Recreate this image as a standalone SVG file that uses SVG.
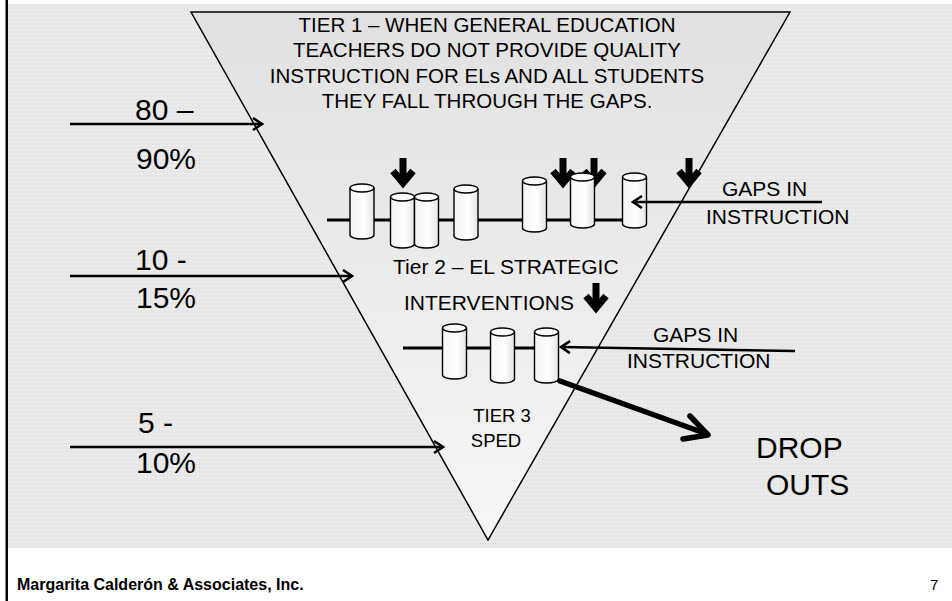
<svg xmlns="http://www.w3.org/2000/svg" xmlns:xlink="http://www.w3.org/1999/xlink" width="952" height="601" viewBox="0 0 952 601">
  <style>
    text { font-family: "Liberation Sans", Arial, Helvetica, sans-serif; fill: #000; }
    .t20 { font-size: 20.5px; }
    .t21 { font-size: 21px; }
    .t18 { font-size: 18.5px; }
    .t30 { font-size: 30px; }
    .mid { text-anchor: middle; }
    .thin { fill: none; stroke: #000; stroke-width: 2.5; marker-end: url(#open); }
    .rail { fill: none; stroke: #000; stroke-width: 3; }
    .cyl-body { fill: url(#cylGrad); stroke: #000; stroke-width: 1.4; }
    .cyl-top { fill: #fafafa; stroke: #000; stroke-width: 1.4; }
    .bold-arrow { fill: none; stroke: #000; stroke-width: 7; stroke-linejoin: miter; }
  </style>
  <defs>
    <pattern id="dots" width="4" height="4" patternUnits="userSpaceOnUse">
      <rect width="4" height="4" fill="#e7e7e7"/>
      <rect x="1" y="1" width="1.2" height="1.2" fill="#f7f7f7"/>
    </pattern>
    <linearGradient id="funnelGrad" x1="0" y1="0" x2="0" y2="1">
      <stop offset="0" stop-color="#e1e1e1"/>
      <stop offset="1" stop-color="#f6f6f6"/>
    </linearGradient>
    <linearGradient id="cylGrad" x1="0" y1="0" x2="1" y2="0">
      <stop offset="0" stop-color="#f4f4f4"/>
      <stop offset="0.6" stop-color="#ffffff"/>
      <stop offset="1" stop-color="#e4e4e4"/>
    </linearGradient>
    <marker id="open" markerWidth="12" markerHeight="14" refX="10" refY="7" orient="auto" markerUnits="userSpaceOnUse">
      <path d="M1,1 L10,7 L1,13" fill="none" stroke="#000" stroke-width="2.5"/>
    </marker>
    <!-- cylinder: 24 wide, 55 tall -->
    <g id="cyl">
      <path class="cyl-body" d="M0,4 V51 A12,4 0 0 0 24,51 V4"/>
      <ellipse class="cyl-top" cx="12" cy="4" rx="12" ry="4"/>
    </g>
    <!-- bold downward arrow, origin at top of shaft -->
    <g id="down">
      <path class="bold-arrow" d="M0,0 V24"/>
      <path class="bold-arrow" d="M-10,13 L0,25 L10,13"/>
    </g>
  </defs>

  <!-- page -->
  <rect width="952" height="601" fill="#fff"/>
  <rect x="8" y="4" width="944" height="544" fill="url(#dots)"/>
  <rect x="5.5" y="0" width="2.5" height="601" fill="#000"/>

  <!-- funnel -->
  <g id="funnel">
    <polygon points="191,12 790,12 488,540" fill="url(#funnelGrad)" stroke="#000" stroke-width="1.5"/>
    <text class="t20 mid" x="487" y="32">TIER 1 – WHEN GENERAL EDUCATION</text>
    <text class="t20 mid" x="487" y="57">TEACHERS DO NOT PROVIDE QUALITY</text>
    <text class="t20 mid" x="487" y="83">INSTRUCTION FOR ELs AND ALL STUDENTS</text>
    <text class="t20 mid" x="487" y="108">THEY FALL THROUGH THE GAPS.</text>
  </g>

  <!-- percentage labels -->
  <g id="label-tier1">
    <text class="t30" x="135" y="120">80 –</text>
    <text class="t30" x="136" y="169">90%</text>
  </g>
  <g id="label-tier2">
    <text class="t30" x="135" y="270">10 -</text>
    <text class="t30" x="136" y="308">15%</text>
  </g>
  <g id="label-tier3">
    <text class="t30" x="138" y="433">5 -</text>
    <text class="t30" x="136" y="473">10%</text>
  </g>

  <!-- tier 1 gaps row -->
  <g id="row1">
    <path class="rail" d="M327,220 H623"/>
    <use xlink:href="#down" x="403" y="158"/>
    <use xlink:href="#down" x="563" y="158"/>
    <use xlink:href="#down" x="594" y="158"/>
    <use xlink:href="#down" x="689" y="158"/>
    <use xlink:href="#cyl" x="350" y="184"/>
    <use xlink:href="#cyl" x="390.5" y="193"/>
    <use xlink:href="#cyl" x="414.5" y="193"/>
    <use xlink:href="#cyl" x="454" y="185"/>
    <use xlink:href="#cyl" x="522.5" y="177"/>
    <use xlink:href="#cyl" x="570.5" y="173"/>
    <use xlink:href="#cyl" x="622.5" y="173"/>
  </g>
  <g id="gaps1">
    <text class="t21" x="722" y="196">GAPS IN</text>
    <text class="t21" x="706" y="224">INSTRUCTION</text>
  </g>

  <!-- tier 2 -->
  <g id="tier2">
    <text class="t21" x="393" y="274">Tier 2 – EL STRATEGIC</text>
    <text class="t21" x="404" y="310">INTERVENTIONS</text>
    <use xlink:href="#down" x="596" y="283"/>
  </g>
  <g id="row2">
    <path class="rail" d="M403,348 H535"/>
    <use xlink:href="#cyl" x="442.5" y="324"/>
    <use xlink:href="#cyl" x="490.5" y="328"/>
    <use xlink:href="#cyl" x="534.5" y="328"/>
  </g>
  <g id="gaps2">
    <text class="t21" x="653" y="342">GAPS IN</text>
    <text class="t21" x="627" y="368">INSTRUCTION</text>
  </g>

  <!-- tier 3 -->
  <g id="tier3">
    <text class="t18 mid" x="502" y="422">TIER 3</text>
    <text class="t18 mid" x="496" y="447">SPED</text>
  </g>

  <g id="dropouts">
    <text class="t30" x="756" y="458">DROP</text>
    <text class="t30" x="766" y="495">OUTS</text>
  </g>

  <!-- connectors -->
  <g id="connectors">
    <path class="thin" d="M70,124 H262"/>
    <path class="thin" d="M70,276 H352"/>
    <path class="thin" d="M70,447 H443"/>
    <path class="thin" d="M822,202 H633"/>
    <path class="thin" d="M795,351 L561,347"/>
    <path d="M560,381 L707,434" fill="none" stroke="#000" stroke-width="5.5" stroke-linecap="round"/>
    <path d="M690,416 L708,435 L683,439" fill="none" stroke="#000" stroke-width="5.5" stroke-linecap="round" stroke-linejoin="round"/>
  </g>

  <!-- footer -->
  <g id="footer">
    <text x="17" y="590" style="font-size:16px;font-weight:bold">Margarita Calderón &amp; Associates, Inc.</text>
    <text x="930" y="590" style="font-size:15px">7</text>
  </g>
</svg>
